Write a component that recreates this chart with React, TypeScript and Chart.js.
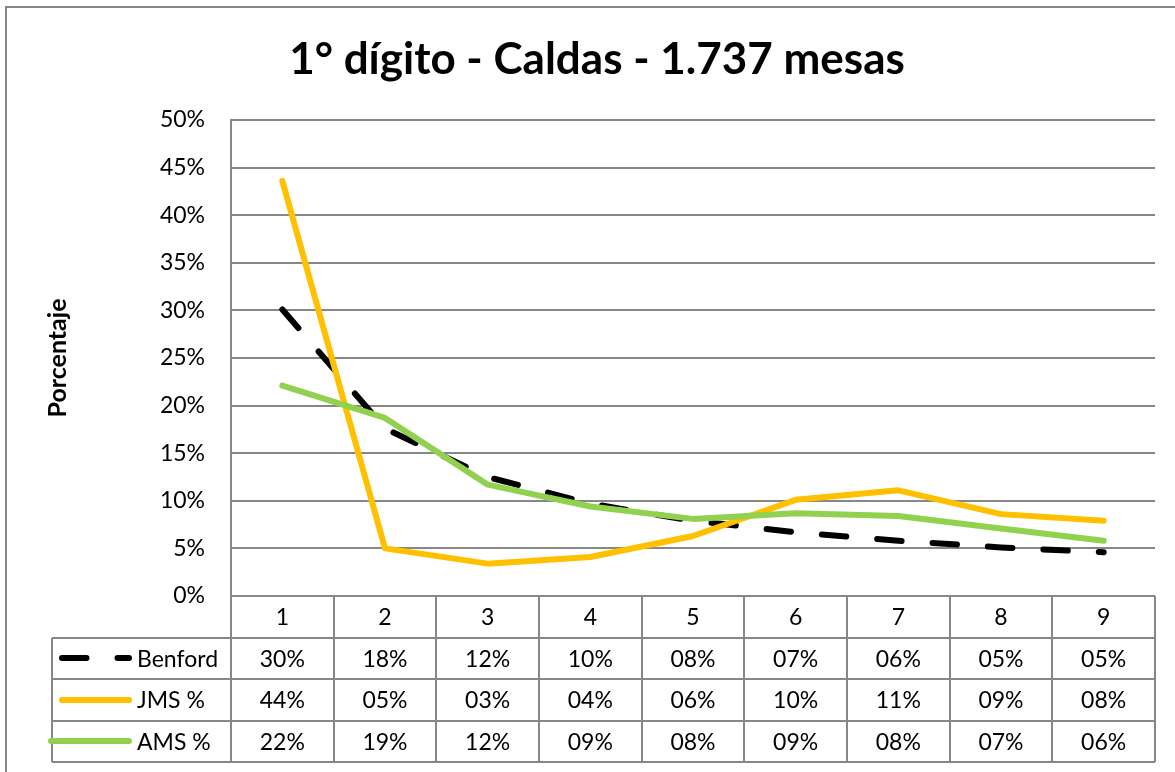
import React, { useEffect, useRef } from "react";
import { Chart, registerables } from "chart.js";

Chart.register(...registerables);

const TITLE = "1° dígito - Caldas - 1.737 mesas";
const Y_TITLE = "Porcentaje";
const categories = ["1", "2", "3", "4", "5", "6", "7", "8", "9"];
const seriesNames = ["Benford", "JMS %", "AMS %"];
const benford = [30.1, 17.6, 12.49, 9.7, 7.9, 6.7, 5.8, 5.1, 4.6];
const jms = [43.6, 5.0, 3.4, 4.1, 6.3, 10.1, 11.1, 8.6, 7.9];
const ams = [22.1, 18.7, 11.7, 9.4, 8.1, 8.7, 8.4, 7.1, 5.8];
const yMin = 0;
const yMax = 50;
const yStep = 5;

const COLORS = ["#000000", "#FFC000", "#92D050"];
const GRAY = "#878787";
const FONT = "Lato, 'Open Sans', sans-serif";
const TEXT_SIZE = 23;
const LINE_W = 6;
const DASH = [24.5, 31];

const fmtCell = (v: number) => String(Math.round(v)).padStart(2, "0") + "%";

const tablePlugin = {
  id: "excelTable",
  afterDraw(chart: any) {
    const ctx: CanvasRenderingContext2D = chart.ctx;
    const area = chart.chartArea;
    const xs = chart.scales.x;
    const W = chart.width;
    const H = chart.height;
    ctx.save();

    // outer chart border
    ctx.strokeStyle = GRAY;
    ctx.lineWidth = 2;
    ctx.beginPath();
    ctx.moveTo(6, H + 5);
    ctx.lineTo(6, 7);
    ctx.lineTo(W + 5, 7);
    ctx.stroke();

    // title
    ctx.fillStyle = "#000";
    ctx.font = `bold 44px ${FONT}`;
    ctx.textAlign = "center";
    ctx.textBaseline = "middle";
    ctx.fillText(TITLE, 597, 60);

    // y axis title
    ctx.save();
    ctx.translate(58, 358);
    ctx.rotate(-Math.PI / 2);
    ctx.font = `bold 25px ${FONT}`;
    ctx.fillText(Y_TITLE, 0, 0);
    ctx.restore();

    // data table
    const n = categories.length;
    const centers = categories.map((_, i) => xs.getPixelForValue(i));
    const half = n > 1 ? (centers[1] - centers[0]) / 2 : 50;
    const bounds: number[] = [];
    for (let i = 0; i < n; i++) bounds.push(Math.round(centers[i] - half));
    bounds.push(Math.round(centers[n - 1] + half));
    const top = Math.round(area.bottom);
    const rowH = 41.5;
    const tableLeft = 52;
    const rows = 4;

    ctx.strokeStyle = GRAY;
    ctx.lineWidth = 2;
    ctx.beginPath();
    bounds.forEach((bx) => {
      ctx.moveTo(bx, top);
      ctx.lineTo(bx, Math.round(top + rows * rowH));
    });
    for (let k = 1; k <= rows; k++) {
      const y = Math.round(top + k * rowH);
      ctx.moveTo(tableLeft, y);
      ctx.lineTo(bounds[n], y);
    }
    ctx.moveTo(tableLeft, Math.round(top + rowH));
    ctx.lineTo(tableLeft, Math.round(top + rows * rowH));
    ctx.stroke();

    ctx.fillStyle = "#000";
    ctx.font = `${TEXT_SIZE}px ${FONT}`;
    ctx.textAlign = "center";
    ctx.textBaseline = "middle";
    categories.forEach((c, i) => ctx.fillText(c, centers[i], top + rowH / 2 + 1));

    const data = [benford, jms, ams];
    data.forEach((vals, r) => {
      const cy = top + (r + 1) * rowH + rowH / 2 + 1;
      vals.forEach((v, i) => {
        ctx.textAlign = "center";
        ctx.fillText(fmtCell(v), centers[i], cy);
      });
      // legend key
      ctx.save();
      ctx.strokeStyle = COLORS[r];
      ctx.lineWidth = LINE_W;
      ctx.lineCap = "round";
      const ky = Math.round(cy - 1);
      if (r === 0) ctx.setLineDash(DASH);
      ctx.beginPath();
      ctx.moveTo(r === 2 ? 51 : 62, ky);
      ctx.lineTo(129, ky);
      ctx.stroke();
      ctx.restore();
      ctx.textAlign = "left";
      ctx.fillText(seriesNames[r], 137, cy);
    });

    ctx.restore();
  },
};

export default function App() {
  const ref = useRef<HTMLCanvasElement | null>(null);

  useEffect(() => {
    document.body.style.margin = "0";
    if (!ref.current) return;
    const common = {
      borderWidth: LINE_W,
      borderCapStyle: "round" as const,
      borderJoinStyle: "round" as const,
      pointRadius: 0,
      tension: 0,
    };
    const chart = new Chart(ref.current, {
      type: "line",
      data: {
        labels: categories,
        datasets: [
          { ...common, label: seriesNames[0], data: benford, borderColor: COLORS[0], borderDash: DASH, order: 2 },
          { ...common, label: seriesNames[1], data: jms, borderColor: COLORS[1], order: 1 },
          { ...common, label: seriesNames[2], data: ams, borderColor: COLORS[2], order: 0 },
        ],
      },
      options: {
        responsive: false,
        animation: false,
        devicePixelRatio: 1,
        layout: { padding: { top: 120, right: 20, left: 0, bottom: 0 } },
        plugins: {
          legend: { display: false },
          tooltip: { enabled: false },
          title: { display: false },
        },
        scales: {
          x: {
            type: "category",
            offset: true,
            grid: { display: false, drawTicks: false },
            border: { display: false },
            ticks: { display: false },
            afterFit: (s: any) => {
              s.height = 176;
            },
          },
          y: {
            min: yMin,
            max: yMax,
            ticks: {
              stepSize: yStep,
              padding: 26,
              color: "#000",
              font: { family: FONT, size: TEXT_SIZE },
              callback: (v: any) => `${v}%`,
            },
            grid: { color: GRAY, lineWidth: 2, drawTicks: false },
            border: { display: true, color: GRAY, width: 2 },
            afterFit: (s: any) => {
              s.width = 231;
            },
          },
        },
      },
      plugins: [tablePlugin],
    });
    return () => chart.destroy();
  }, []);

  return (
    <div style={{ position: "absolute", left: 0, top: 0, width: 1175, height: 772, background: "#fff" }}>
      <canvas ref={ref} width={1175} height={772} style={{ display: "block" }} />
    </div>
  );
}
